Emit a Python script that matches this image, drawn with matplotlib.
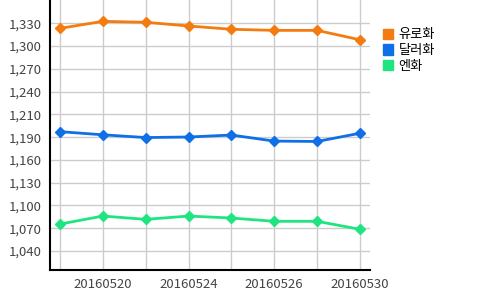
import numpy as np
import matplotlib.pyplot as plt
from matplotlib.patches import Patch

plt.rcParams['font.family'] = ['Noto Sans CJK KR', 'DejaVu Sans']

dates = ["20160519", "20160520", "20160523", "20160524",
         "20160525", "20160526", "20160527", "20160530"]
euro = [1323.6, 1332.5, 1331.3, 1326.6, 1322.4, 1321.0, 1321.0, 1309.0]
dollar = [1192.0, 1188.0, 1184.5, 1185.2, 1187.7, 1180.0, 1179.5, 1190.0]
yen = [1074.3, 1084.5, 1080.3, 1084.5, 1082.0, 1077.8, 1077.8, 1067.6]

names = ["유로화", "달러화", "엔화"]
colors = ["#f47b10", "#0f6fe6", "#1ee57f"]

fig = plt.figure(figsize=(5.0, 2.9), dpi=100)
ax = fig.add_axes([0.10, 0.069, 0.64, 0.931])

x = np.arange(len(dates))
for vals, c in zip([euro, dollar, yen], colors):
    ax.plot(x, vals, color=c, lw=2, marker="D", ms=5.5, mec=c, zorder=3)

ax.set_xlim(-0.233, 7.233)
ax.set_ylim(1015.8, 1359.7)

yt = 1040 + 29 * np.arange(11)
ax.set_yticks(yt)
ax.set_yticklabels(["{:,}".format(int(v / 10.0 + 0.5) * 10) for v in yt])
ax.set_xticks(x)
ax.set_xticklabels([d if i % 2 == 1 else "" for i, d in enumerate(dates)])

ax.grid(True, color="#cccccc", lw=1)
ax.set_axisbelow(True)
for s in ["top", "right"]:
    ax.spines[s].set_visible(False)
ax.spines["left"].set_color("black")
ax.spines["bottom"].set_color("black")
ax.spines["left"].set_linewidth(1.5)
ax.spines["bottom"].set_linewidth(1.5)
ax.tick_params(length=0, labelsize=9.5, colors="#444444", pad=6)

handles = [Patch(color=c, label=n) for n, c in zip(names, colors)]
fig.legend(handles=handles, loc="upper left", bbox_to_anchor=(0.755, 0.92),
           frameon=False, fontsize=9.5, handlelength=0.8, handleheight=0.8,
           handletextpad=0.4, labelspacing=0.2, borderaxespad=0)

fig.savefig("out.png", dpi=100)
